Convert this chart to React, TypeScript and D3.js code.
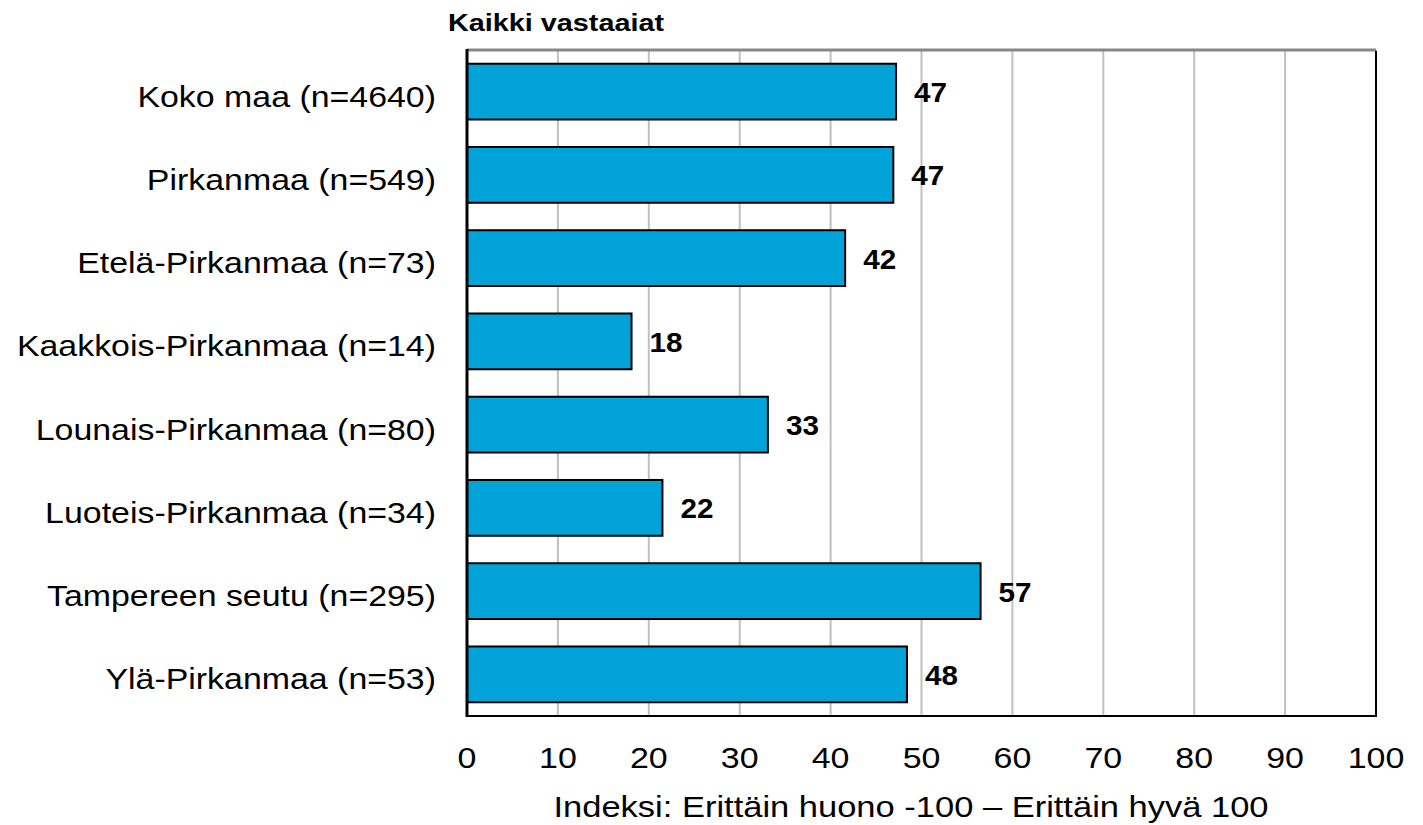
import React from "react";
import * as d3 from "d3";

const categories = [
  "Koko maa (n=4640)",
  "Pirkanmaa (n=549)",
  "Etelä-Pirkanmaa (n=73)",
  "Kaakkois-Pirkanmaa (n=14)",
  "Lounais-Pirkanmaa (n=80)",
  "Luoteis-Pirkanmaa (n=34)",
  "Tampereen seutu (n=295)",
  "Ylä-Pirkanmaa (n=53)",
];
const values = [47.2, 46.9, 41.6, 18.1, 33.1, 21.5, 56.5, 48.4];
const valueLabels = ["47", "47", "42", "18", "33", "22", "57", "48"];
const xTicks = [0, 10, 20, 30, 40, 50, 60, 70, 80, 90, 100];
const title = "Kaikki vastaaiat";
const xTitle = "Indeksi: Erittäin huono -100 – Erittäin hyvä 100";

const W = 1423;
const H = 825;
const left = 467;
const right = 1376;
const top = 50;
const bottom = 716;
const font = "Arial, 'Liberation Sans', sans-serif";
const SX = 1.14;

function T(props: {
  x: number;
  y: number;
  sx?: number;
  size: number;
  bold?: boolean;
  anchor?: string;
  children: React.ReactNode;
}) {
  const { x, y, sx = SX, size, bold, anchor = "start", children } = props;
  return (
    <text
      transform={`translate(${x},${y}) scale(${sx},1)`}
      fontSize={size}
      fontWeight={bold ? "bold" : "normal"}
      textAnchor={anchor}
      fill="#000"
    >
      {children}
    </text>
  );
}

export default function App() {
  const x = d3.scaleLinear().domain([0, 100]).range([left, right]);
  const y = d3
    .scaleBand<string>()
    .domain(categories)
    .range([top, bottom])
    .paddingInner(0.33)
    .paddingOuter(0.165);

  return (
    <svg
      width={W}
      height={H}
      style={{ position: "absolute", left: 0, top: 0, background: "#fff" }}
      fontFamily={font}
    >
      {xTicks.map((t) => (
        <line
          key={"g" + t}
          x1={x(t)}
          x2={x(t)}
          y1={top}
          y2={bottom}
          stroke="#c0c0c0"
          strokeWidth={2}
        />
      ))}
      <line x1={left} x2={right} y1={top} y2={top} stroke="#878787" strokeWidth={3} />
      <line x1={right} x2={right} y1={top + 1} y2={bottom} stroke="#000" strokeWidth={2} />
      {categories.map((c, i) => {
        const cy = y(c)! + y.bandwidth() / 2;
        return (
          <g key={c}>
            <rect
              x={x(0)}
              y={y(c)}
              width={x(values[i]) - x(0)}
              height={y.bandwidth()}
              fill="#02a3d9"
              stroke="#000"
              strokeWidth={2}
            />
            <T x={x(values[i]) + 18} y={cy + 10.5} size={28} bold sx={1.06}>
              {valueLabels[i]}
            </T>
            <T x={436} y={cy + 15} size={30} anchor="end" sx={1.13}>
              {c}
            </T>
          </g>
        );
      })}
      <line x1={left} x2={left} y1={top - 1} y2={bottom + 1} stroke="#000" strokeWidth={3} />
      <line x1={left} x2={right + 1} y1={bottom} y2={bottom} stroke="#000" strokeWidth={2} />
      {xTicks.map((t) => (
        <T key={"t" + t} x={x(t)} y={768} size={29} anchor="middle" sx={1.17}>
          {t}
        </T>
      ))}
      <T x={911} y={817} size={30} anchor="middle" sx={1.15}>
        {xTitle}
      </T>
      <T x={448} y={31} size={24} bold sx={1.2}>
        {title}
      </T>
    </svg>
  );
}
